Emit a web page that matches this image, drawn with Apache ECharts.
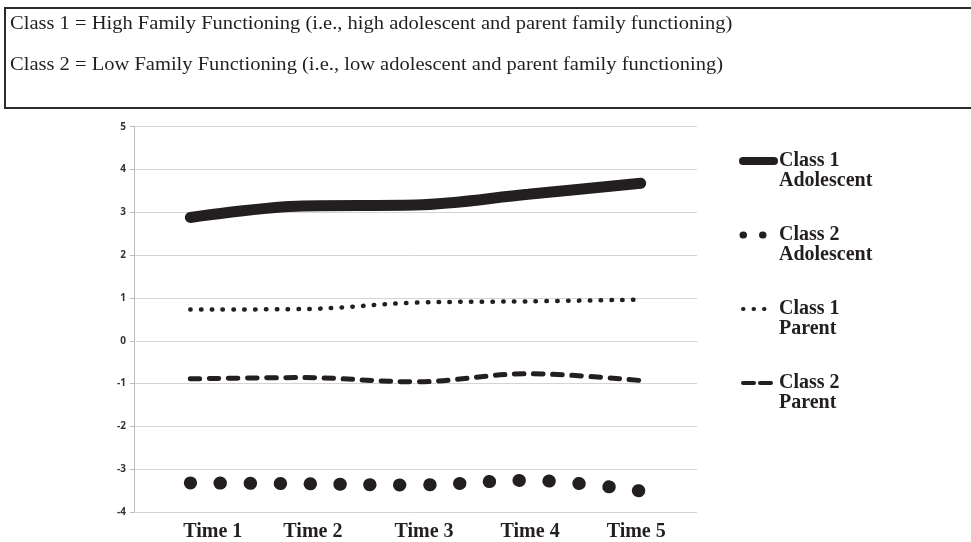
<!DOCTYPE html>
<html>
<head>
<meta charset="utf-8">
<script src="https://cdn.jsdelivr.net/npm/echarts@6/dist/echarts.min.js"></script>
<style>
  html, body { margin: 0; padding: 0; background: #ffffff; }
  #chart { width: 971px; height: 542px; }
</style>
</head>
<body>
<div id="chart"></div>
<script>
// ---- data ----
const categories = ['Time 1', 'Time 2', 'Time 3', 'Time 4', 'Time 5'];
const class1Adolescent = [2.88, 3.15, 3.17, 3.42, 3.68];
const class2Adolescent = [-3.32, -3.34, -3.37, -3.26, -3.51];
const class1Parent = [0.73, 0.74, 0.89, 0.92, 0.96];
const class2Parent = [-0.89, -0.86, -0.96, -0.77, -0.93];
const seriesNames = ['Class 1 Adolescent', 'Class 2 Adolescent', 'Class 1 Parent', 'Class 2 Parent'];
const noteLines = [
  'Class 1 = High Family Functioning (i.e., high adolescent and parent family functioning)',
  'Class 2 = Low Family Functioning (i.e., low adolescent and parent family functioning)'
];
const yMin = -4, yMax = 5, yStep = 1;

// ---- styles ----
const ink = '#231f20';
const serif = '"Liberation Serif", "Times New Roman", serif';
const labelShift = [45, 20, 17, 4, -9]; // visual nudges of category labels
const rich = {};
labelShift.forEach((s, i) => {
  rich['l' + i] = {
    fontFamily: serif, fontSize: 20, fontWeight: 'bold', color: ink, lineHeight: 20,
    padding: s >= 0 ? [0, 0, 0, s] : [0, -s, 0, 0]
  };
});

const seriesStyles = [
  { width: 11, type: 'solid', cap: 'round' },
  { width: 13, type: [0.5, 29.4], cap: 'round' },
  { width: 4.5, type: [0.5, 10.3], cap: 'round' },
  { width: 5, type: [9.5, 9.6], cap: 'round' }
];
const legendStyles = [
  { width: 8, type: 'solid', cap: 'round' },
  { width: 7, type: [0.5, 19], cap: 'round' },
  { width: 4, type: [0.5, 10], cap: 'round' },
  { width: 4, type: [11, 6], cap: 'round' }
];
const seriesData = [class1Adolescent, class2Adolescent, class1Parent, class2Parent];

const chart = echarts.init(document.getElementById('chart'), null, { renderer: 'canvas' });
chart.setOption({
  animation: false,
  backgroundColor: '#ffffff',
  graphic: {
    elements: [
      { type: 'rect', shape: { x: 5, y: 8, width: 1000, height: 100 },
        style: { fill: 'none', stroke: '#2b2b2b', lineWidth: 2 } },
      { type: 'text', x: 10, y: 24, scaleX: 1.14,
        style: { text: noteLines[0], fontFamily: serif, fontSize: 18, fill: ink, verticalAlign: 'middle' } },
      { type: 'text', x: 10, y: 65, scaleX: 1.14,
        style: { text: noteLines[1], fontFamily: serif, fontSize: 18, fill: ink, verticalAlign: 'middle' } }
    ]
  },
  grid: { left: 134, top: 126.7, width: 563, height: 385.6 },
  legend: {
    orient: 'vertical',
    left: 739, top: 131, padding: 0,
    itemGap: 14, itemWidth: 31, itemHeight: 14,
    selectedMode: false,
    // leading empty line keeps the first text line level with the icon
    formatter: n => '\n' + n.replace(/ (?=\S+$)/, '\n'),
    textStyle: { fontFamily: serif, fontSize: 20, fontWeight: 'bold', color: ink, lineHeight: 20 },
    itemStyle: { opacity: 0 },
    data: seriesNames.map((n, i) => ({
      name: n,
      itemStyle: { opacity: 0 },
      lineStyle: Object.assign({ color: ink, opacity: 1 }, legendStyles[i])
    }))
  },
  xAxis: {
    type: 'category',
    data: categories,
    boundaryGap: true,
    axisLine: { show: true, lineStyle: { color: '#d4d4d4', width: 1 } },
    axisTick: { show: false },
    splitLine: { show: false },
    axisLabel: {
      margin: 10,
      interval: 0,
      formatter: (v, i) => '{l' + i + '|' + v + '}',
      rich: rich
    }
  },
  yAxis: {
    type: 'value',
    min: yMin, max: yMax, interval: yStep,
    axisLine: { show: true, lineStyle: { color: '#bdbdbd', width: 1 } },
    axisTick: { show: true, length: 4, lineStyle: { color: '#bdbdbd' } },
    splitLine: { show: true, lineStyle: { color: '#d4d4d4', width: 1 } },
    axisLabel: { margin: 8, fontFamily: '"Open Sans", sans-serif', fontSize: 10, fontWeight: 'bold', color: '#333333' }
  },
  series: seriesNames.map((n, i) => ({
    name: n,
    type: 'line',
    data: seriesData[i],
    smooth: 0.35,
    symbol: 'none',
    color: ink,
    lineStyle: Object.assign({ color: ink }, seriesStyles[i]),
    emphasis: { disabled: true },
    z: 2
  }))
});
</script>
</body>
</html>
